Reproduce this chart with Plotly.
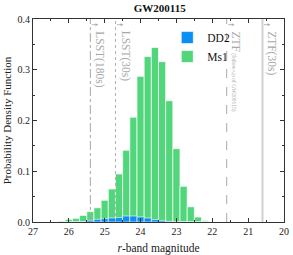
import plotly.graph_objects as go

# Bin centres (r-band magnitude) and PDF values
mag_bins = [26.2, 26.0, 25.8, 25.6, 25.4, 25.2, 25.0, 24.8, 24.6, 24.4, 24.2, 24.0,
            23.8, 23.6, 23.4, 23.2, 23.0, 22.8, 22.6, 22.4, 22.2]
ms1_pdf = [0.002, 0.005, 0.0072, 0.013, 0.0204, 0.028, 0.0428, 0.065, 0.0947, 0.1414,
           0.2065, 0.287, 0.326, 0.344, 0.316, 0.239, 0.1446, 0.0703, 0.030, 0.0098, 0.0026]
dd2_pdf = [0.0, 0.0, 0.0005, 0.001, 0.0034, 0.0053, 0.0066, 0.0079, 0.0086, 0.0118,
           0.0118, 0.0099, 0.0079, 0.0046, 0.0026, 0.0013, 0.0007, 0.0, 0.0, 0.0, 0.0]

# Detection limits
limit_mags = [25.4, 24.7, 21.6, 20.6]
limit_labels = ["LSST(180s)", "LSST(30s)",
                "ZTF<span style='font-size:5.5px'> (follow-up of GW200115)</span>", "ZTF(30s)"]
limit_dash = ["dashdot", "dot", "dash", "solid"]
limit_color = ["#a8a8a8", "#b0b0b0", "#b8b8b8", "#d0d0d0"]
limit_width = [1, 1, 1.2, 2]

FONT = "Liberation Serif"
fig = go.Figure()
fig.add_trace(go.Bar(x=mag_bins, y=ms1_pdf, width=0.2, name="Ms1",
                     marker=dict(color="#52d67b", line=dict(color="rgba(255,255,255,0.7)", width=1)),
                     legendrank=2))
fig.add_trace(go.Bar(x=mag_bins, y=dd2_pdf, width=0.2, name="DD2",
                     marker=dict(color="#0a8ff5", line=dict(color="rgba(255,255,255,0.6)", width=1)),
                     legendrank=1))

for m, lab, d, c, w in zip(limit_mags, limit_labels, limit_dash, limit_color, limit_width):
    fig.add_shape(type="line", x0=m, x1=m, y0=0, y1=1, xref="x", yref="paper",
                  line=dict(color=c, dash=d, width=w), layer="above")
    fig.add_annotation(x=m - 0.22, y=0.972, xref="x", yref="paper", ax=-8, ay=0,
                       showarrow=True, arrowhead=2, arrowsize=0.7, arrowwidth=0.8,
                       arrowcolor="#aaaaaa", text="")
    fig.add_annotation(x=m, y=0.95, xref="x", yref="paper", text=lab, showarrow=False,
                       textangle=90, xanchor="left", yanchor="top", xshift=1,
                       font=dict(family=FONT, size=11.5, color="#a8a8a8"))

fig.update_layout(
    width=293, height=255, barmode="overlay",
    margin=dict(l=33, r=9, t=19, b=33, autoexpand=False),
    paper_bgcolor="white", plot_bgcolor="white",
    font=dict(family=FONT, size=10, color="#222"),
    title=dict(text="<b>GW200115</b>", x=0.545, xanchor="center", y=0.985, yanchor="top",
               font=dict(family=FONT, size=11, color="#111")),
    legend=dict(x=0.535, y=0.98, xanchor="left", yanchor="top", bgcolor="rgba(0,0,0,0)",
                font=dict(family=FONT, size=11.5, color="#111"), itemwidth=30,
                tracegroupgap=0),
    showlegend=True,
)
fig.update_xaxes(range=[27, 20], tickmode="array", tickvals=[27, 26, 25, 24, 23, 22, 21, 20],
                 ticks="inside", ticklen=4, tickcolor="#333", showline=True, linecolor="#333",
                 linewidth=1, mirror="allticks", showgrid=False, zeroline=False, automargin=False,
                 minor=dict(ticks="inside", ticklen=2, dtick=0.5, tickcolor="#333"),
                 title=dict(text="<i>r</i>-band magnitude", font=dict(family=FONT, size=11.5), standoff=7),
                 tickfont=dict(family=FONT, size=10))
fig.update_yaxes(range=[0, 0.4], tickvals=[0, 0.1, 0.2, 0.3, 0.4],
                 ticktext=["0.0", "0.1", "0.2", "0.3", "0.4"],
                 ticks="inside", ticklen=4, tickcolor="#333", showline=True, linecolor="#333",
                 linewidth=1, mirror="allticks", showgrid=False, zeroline=False, automargin=False,
                 minor=dict(ticks="inside", ticklen=2, dtick=0.05, tickcolor="#333"),
                 title=dict(text="Probability Density Function", font=dict(family=FONT, size=11), standoff=3),
                 tickfont=dict(family=FONT, size=10))
fig.write_html("out.html", config={"displayModeBar": False},
               post_script="document.body.style.margin='0';document.body.style.padding='0';")
